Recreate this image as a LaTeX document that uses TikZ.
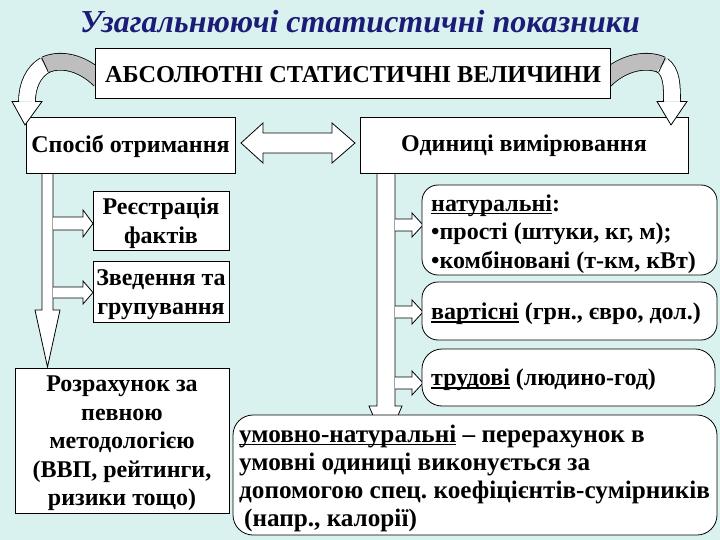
\documentclass[tikz,border=0pt]{standalone}
\usepackage{fontspec}
\setmainfont{Liberation Serif}
\frenchspacing
\definecolor{bg}{RGB}{218,242,239}
\definecolor{titleblue}{RGB}{28,28,120}
\definecolor{arrgray}{RGB}{190,190,190}
\newcommand\undl[1]{\setbox0\hbox{#1}\rlap{\rule[-2.8pt]{\wd0}{1.3pt}}\box0\relax}
\begin{document}
\begin{tikzpicture}[x=1pt,y=-1pt,
  box/.style={draw=black, fill=white, line width=0.8pt, inner sep=0pt},
  rbox/.style={box, rounded corners=16pt},
  txt/.style={inner sep=0pt, font=\bfseries\fontsize{24}{28.5}\selectfont},
  blk/.style={draw=black, fill=white, line width=0.8pt, line join=miter},
  bandout/.style={draw=black, line width=17.6pt},
  bandgray/.style={draw=arrgray, line width=16pt},
  bandwhite/.style={draw=white, line width=16pt}]
\fill[bg] (0,0) rectangle (720,540);
\useasboundingbox (0,0) rectangle (720,540);

% title
\node[font=\bfseries\itshape\fontsize{32}{36}\selectfont, text=titleblue] (title) at (360,22) {Узагальнюючі статистичні показники};

% left vertical block arrow and branches
\filldraw[blk] (42,172) -- (42,310) -- (35,310) -- (47.5,367) -- (60,310) -- (53,310) -- (53,172);
\path[fill=white] (53,217) -- (83,217) -- (83,210) -- (93,223.5) -- (83,237) -- (83,230) -- (53,230) -- cycle;
\draw[blk, fill=none] (53,217) -- (83,217) -- (83,210) -- (93,223.5) -- (83,237) -- (83,230) -- (53,230);
\path[fill=white] (53,287) -- (83,287) -- (83,281) -- (93,292.5) -- (83,304) -- (83,298) -- (53,298) -- cycle;
\draw[blk, fill=none] (53,287) -- (83,287) -- (83,281) -- (93,292.5) -- (83,304) -- (83,298) -- (53,298);

% right vertical block arrow and branches
\filldraw[blk] (377,172) -- (377,406) -- (369,406) -- (385.5,445) -- (402,406) -- (395,406) -- (395,172);
\foreach \yc in {225,312,383}{
  \path[fill=white] (395,\yc-6) -- (412,\yc-6) -- (412,\yc-12) -- (423,\yc) -- (412,\yc+12) -- (412,\yc+6) -- (395,\yc+6) -- cycle;
  \draw[blk, fill=none] (395,\yc-6) -- (412,\yc-6) -- (412,\yc-12) -- (423,\yc) -- (412,\yc+12) -- (412,\yc+6) -- (395,\yc+6);
}

% double arrow
\filldraw[blk] (241,143) -- (263,123) -- (263,133) -- (332,133) -- (332,123) -- (355,143) -- (332,163) -- (332,153) -- (263,153) -- (263,163) -- cycle;

% boxes
\node[box, minimum width=209pt, minimum height=56pt] (sposib) at (130.5,145) {};
\node[txt] (sposib-t) at (130.5,146) {Спосіб отримання};
\node[box, minimum width=328pt, minimum height=56pt] (odyn) at (524,145) {};
\node[txt] (odyn-t) at (524,146) {Одиниці вимірювання};
\node[box, minimum width=136pt, minimum height=59pt] (reestr) at (161,220.5) {};
\node[txt, align=center, font=\bfseries\fontsize{24}{29}\selectfont] (reestr-t) at (161,223.5) {Реєстрація\\фактів};
\node[box, minimum width=136pt, minimum height=61pt] (zved) at (161,291.5) {};
\node[txt, align=center, font=\bfseries\fontsize{24}{29}\selectfont] (zved-t) at (161,294.5) {Зведення та\\групування};
\node[box, minimum width=214pt, minimum height=145pt] (rozr) at (122,440.5) {};
\node[txt, align=center] (rozr-t) at (122,443.5) {Розрахунок за\\певною\\методологією\\(ВВП, рейтинги,\\ризики тощо)};
\node[rbox, minimum width=295pt, minimum height=90pt] (natur) at (569.5,230) {};
\node[txt, align=flush left, anchor=west] (natur-t) at (431,234) {\undl{натуральні}:\\•прості (штуки, кг, м);\\•комбіновані (т-км, кВт)};
\node[rbox, minimum width=295pt, minimum height=58pt] (vart) at (569.5,311) {};
\node[txt, anchor=west] (vart-t) at (431,314) {\undl{вартісні} (грн., євро, дол.)};
\node[rbox, minimum width=293pt, minimum height=57pt, rounded corners=20pt] (trud) at (568.5,377.5) {};
\node[txt, anchor=west] (trud-t) at (431,380) {\undl{трудові} (людино-год)};
\node[rbox, minimum width=484pt, minimum height=120pt, rounded corners=20pt] (umov) at (475,475) {};
\node[txt, align=left, anchor=west, font=\bfseries\fontsize{25.2}{28}\selectfont] (umov-t) at (239,478) {\undl{умовно-натуральні} – перерахунок в\\умовні одиниці виконується за\\допомогою спец. коефіцієнтів-сумірників\\\hspace*{5pt}(напр., калорії)};

% left curved arrow
\draw[bandout] (100,80) .. controls (82,62) and (60,58) .. (45,65);
\draw[bandgray] (100,80) .. controls (82,62) and (60,58) .. (45,65);
\draw[bandout] (45,65) .. controls (33,72) and (27,86) .. (27,101.5);
\draw[bandwhite] (45,65) .. controls (33,72) and (27,86) .. (27,101.5);
\draw[line width=0.8pt] (41.6,57.75) -- (48.4,72.25);
\fill[white] (12,101.5) -- (42,101.5) -- (25,125) -- cycle;
\draw[line width=0.8pt, line join=miter] (19,101.5) -- (12,101.5) -- (25,125) -- (42,101.5) -- (35,101.5);

% right curved arrow
\draw[bandout] (605,80) .. controls (623,62) and (647,58) .. (662,65);
\draw[bandgray] (605,80) .. controls (623,62) and (647,58) .. (662,65);
\draw[bandout] (662,65) .. controls (672,72) and (672,86) .. (672,101.5);
\draw[bandwhite] (662,65) .. controls (672,72) and (672,86) .. (672,101.5);
\draw[line width=0.8pt] (665.4,57.75) -- (658.6,72.25);
\fill[white] (657,101.5) -- (687,101.5) -- (671,125) -- cycle;
\draw[line width=0.8pt, line join=miter] (664,101.5) -- (657,101.5) -- (671,125) -- (687,101.5) -- (680,101.5);

% top box
\node[box, minimum width=515pt, minimum height=50pt] (abs) at (352.5,73) {};
\node[txt, font=\bfseries\fontsize{24.3}{28}\selectfont] (abs-t) at (353,74.5) {АБСОЛЮТНІ СТАТИСТИЧНІ ВЕЛИЧИНИ};
\end{tikzpicture}
\end{document}
